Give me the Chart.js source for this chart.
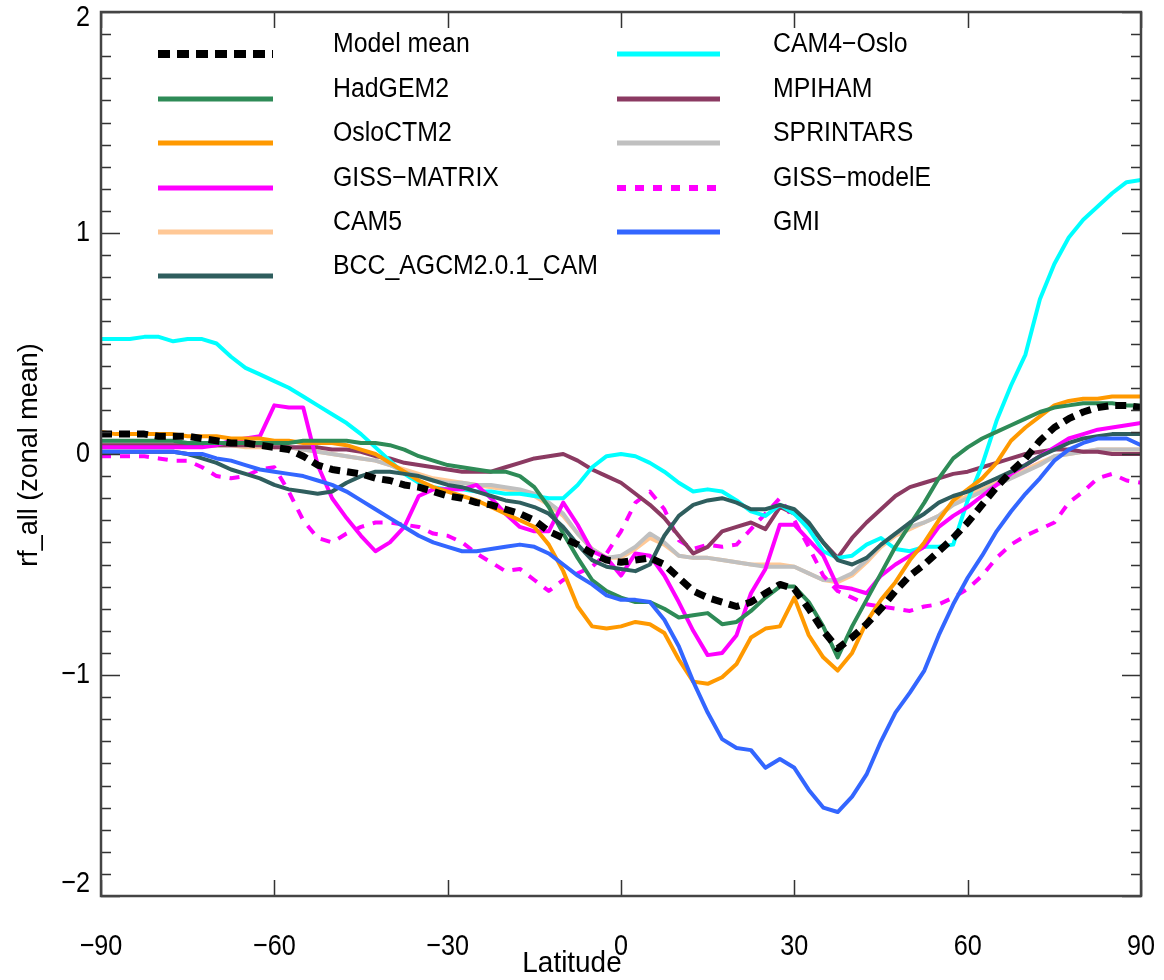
<!DOCTYPE html>
<html><head><meta charset="utf-8">
<script src="https://cdn.jsdelivr.net/npm/chart.js@4"></script>
<style>html,body{margin:0;padding:0;background:#fff}#wrap{width:1164px;height:980px;position:relative}</style>
</head><body><div id="wrap"><canvas id="c" width="1164" height="980"></canvas></div>
<script>
const latitudes = [
-90,-87.5,-85,-82.5,-80,-77.5,-75,-72.5,-70,-67.5,-65,-62.5,
-60,-57.5,-55,-52.5,-50,-47.5,-45,-42.5,-40,-37.5,-35,-32.5,
-30,-27.5,-25,-22.5,-20,-17.5,-15,-12.5,-10,-7.5,-5,-2.5,
0,2.5,5,7.5,10,12.5,15,17.5,20,22.5,25,27.5,
30,32.5,35,37.5,40,42.5,45,47.5,50,52.5,55,57.5,
60,62.5,65,67.5,70,72.5,75,77.5,80,82.5,85,87.5,
90];

const seriesNames = ['Model mean','HadGEM2','OsloCTM2','GISS\u2212MATRIX','CAM5','BCC_AGCM2.0.1_CAM',
  'CAM4\u2212Oslo','MPIHAM','SPRINTARS','GISS\u2212modelE','GMI'];

const modelMean = [
0.09,0.09,0.09,0.09,0.08,0.08,0.08,0.07,0.06,0.05,0.05,0.04,
0.03,0.02,-0.01,-0.05,-0.07,-0.08,-0.09,-0.11,-0.12,-0.14,-0.15,-0.17,
-0.19,-0.2,-0.22,-0.23,-0.25,-0.27,-0.3,-0.35,-0.38,-0.41,-0.45,-0.48,
-0.49,-0.48,-0.47,-0.5,-0.56,-0.62,-0.65,-0.67,-0.69,-0.67,-0.63,-0.59,
-0.61,-0.7,-0.8,-0.88,-0.83,-0.77,-0.7,-0.62,-0.55,-0.5,-0.44,-0.38,
-0.31,-0.23,-0.15,-0.08,-0.02,0.06,0.12,0.16,0.19,0.21,0.22,0.22,
0.21];
const hadGEM2 = [
0.06,0.06,0.06,0.06,0.06,0.06,0.05,0.05,0.05,0.05,0.05,0.05,
0.05,0.05,0.06,0.06,0.06,0.06,0.05,0.05,0.04,0.02,-0.01,-0.03,
-0.05,-0.06,-0.07,-0.08,-0.08,-0.1,-0.15,-0.24,-0.36,-0.47,-0.57,-0.62,
-0.65,-0.67,-0.67,-0.7,-0.74,-0.73,-0.72,-0.77,-0.76,-0.71,-0.65,-0.6,
-0.6,-0.67,-0.78,-0.92,-0.78,-0.66,-0.54,-0.42,-0.32,-0.22,-0.11,-0.02,
0.03,0.07,0.1,0.13,0.16,0.19,0.21,0.22,0.23,0.23,0.23,0.22,
0.22];
const osloCTM2 = [
0.1,0.09,0.09,0.09,0.09,0.09,0.08,0.08,0.08,0.07,0.07,0.07,
0.06,0.06,0.05,0.05,0.05,0.04,0.02,0.0,-0.04,-0.08,-0.12,-0.15,
-0.17,-0.19,-0.21,-0.24,-0.27,-0.3,-0.33,-0.41,-0.53,-0.69,-0.78,-0.79,
-0.78,-0.76,-0.77,-0.81,-0.93,-1.03,-1.04,-1.01,-0.95,-0.83,-0.79,-0.78,
-0.65,-0.82,-0.92,-0.98,-0.9,-0.76,-0.66,-0.58,-0.48,-0.4,-0.3,-0.21,
-0.16,-0.11,-0.04,0.06,0.12,0.17,0.22,0.24,0.25,0.25,0.26,0.26,
0.26];
const gissMatrix = [
0.03,0.03,0.03,0.03,0.03,0.03,0.03,0.03,0.04,0.06,0.07,0.08,
0.22,0.21,0.21,-0.05,-0.2,-0.29,-0.37,-0.44,-0.4,-0.33,-0.19,-0.16,
-0.16,-0.16,-0.14,-0.2,-0.27,-0.33,-0.35,-0.35,-0.22,-0.32,-0.44,-0.47,
-0.55,-0.45,-0.46,-0.55,-0.67,-0.8,-0.91,-0.9,-0.82,-0.63,-0.52,-0.32,
-0.32,-0.39,-0.46,-0.6,-0.61,-0.63,-0.55,-0.5,-0.46,-0.42,-0.33,-0.28,
-0.24,-0.19,-0.14,-0.09,-0.05,-0.01,0.03,0.07,0.09,0.11,0.12,0.13,
0.14];
const cam5 = [
0.04,0.04,0.04,0.04,0.04,0.04,0.04,0.04,0.04,0.04,0.03,0.03,
0.03,0.03,0.02,0.01,0.0,-0.01,-0.02,-0.03,-0.05,-0.07,-0.09,-0.11,
-0.12,-0.13,-0.14,-0.15,-0.16,-0.17,-0.19,-0.23,-0.28,-0.36,-0.43,-0.47,
-0.47,-0.43,-0.38,-0.41,-0.46,-0.47,-0.47,-0.48,-0.49,-0.5,-0.5,-0.5,
-0.51,-0.54,-0.57,-0.58,-0.55,-0.49,-0.42,-0.37,-0.34,-0.31,-0.28,-0.22,
-0.19,-0.16,-0.13,-0.1,-0.07,-0.04,-0.01,0.0,0.01,0.02,0.02,0.02,
0.02];
const bccAgcm = [
0.01,0.01,0.01,0.01,0.01,0.01,0.0,-0.02,-0.04,-0.07,-0.09,-0.11,
-0.14,-0.16,-0.17,-0.18,-0.17,-0.13,-0.1,-0.08,-0.08,-0.09,-0.1,-0.12,
-0.14,-0.15,-0.17,-0.19,-0.21,-0.22,-0.24,-0.27,-0.33,-0.41,-0.48,-0.51,
-0.52,-0.53,-0.5,-0.37,-0.28,-0.23,-0.21,-0.2,-0.22,-0.25,-0.25,-0.23,
-0.25,-0.31,-0.4,-0.48,-0.5,-0.47,-0.41,-0.36,-0.31,-0.27,-0.22,-0.19,
-0.17,-0.14,-0.11,-0.08,-0.05,-0.01,0.02,0.05,0.07,0.08,0.09,0.09,
0.09];
const cam4Oslo = [
0.52,0.52,0.52,0.53,0.53,0.51,0.52,0.52,0.5,0.44,0.39,0.36,
0.33,0.3,0.26,0.22,0.18,0.14,0.09,0.03,-0.03,-0.09,-0.13,-0.15,
-0.16,-0.16,-0.17,-0.17,-0.18,-0.18,-0.19,-0.2,-0.2,-0.14,-0.06,-0.01,
0.0,-0.01,-0.04,-0.08,-0.13,-0.17,-0.16,-0.17,-0.21,-0.26,-0.28,-0.23,
-0.27,-0.34,-0.44,-0.47,-0.46,-0.41,-0.38,-0.43,-0.44,-0.42,-0.42,-0.41,
-0.21,-0.05,0.15,0.31,0.45,0.7,0.86,0.98,1.06,1.12,1.18,1.23,
1.24];
const mpiham = [
0.04,0.04,0.04,0.04,0.04,0.04,0.04,0.04,0.04,0.04,0.04,0.04,
0.03,0.03,0.03,0.03,0.02,0.02,0.01,-0.01,-0.02,-0.04,-0.05,-0.06,
-0.07,-0.08,-0.08,-0.08,-0.06,-0.04,-0.02,-0.01,0.0,-0.03,-0.07,-0.1,
-0.13,-0.18,-0.23,-0.29,-0.37,-0.45,-0.42,-0.35,-0.33,-0.31,-0.34,-0.24,
-0.27,-0.32,-0.4,-0.47,-0.38,-0.31,-0.25,-0.19,-0.15,-0.13,-0.11,-0.09,
-0.08,-0.06,-0.04,-0.02,0.0,0.01,0.02,0.02,0.01,0.01,0.0,0.0,
0.0];
const sprintars = [
0.05,0.05,0.05,0.05,0.05,0.05,0.05,0.04,0.04,0.04,0.04,0.04,
0.04,0.03,0.02,0.01,0.0,-0.01,-0.02,-0.03,-0.05,-0.08,-0.1,-0.12,
-0.13,-0.13,-0.14,-0.14,-0.15,-0.16,-0.18,-0.22,-0.27,-0.36,-0.43,-0.47,
-0.46,-0.42,-0.36,-0.4,-0.46,-0.47,-0.47,-0.48,-0.49,-0.5,-0.51,-0.51,
-0.51,-0.54,-0.57,-0.57,-0.54,-0.48,-0.41,-0.36,-0.33,-0.31,-0.28,-0.23,
-0.2,-0.17,-0.14,-0.11,-0.08,-0.05,-0.01,0.0,0.01,0.02,0.02,0.02,
0.02];
const gissModelE = [
-0.01,-0.01,-0.01,-0.01,-0.02,-0.03,-0.03,-0.06,-0.1,-0.11,-0.1,-0.07,
-0.06,-0.17,-0.3,-0.38,-0.4,-0.36,-0.33,-0.31,-0.31,-0.32,-0.33,-0.36,
-0.37,-0.4,-0.45,-0.49,-0.53,-0.52,-0.57,-0.62,-0.57,-0.54,-0.51,-0.45,
-0.35,-0.22,-0.17,-0.25,-0.39,-0.43,-0.41,-0.42,-0.41,-0.34,-0.27,-0.2,
-0.3,-0.42,-0.55,-0.62,-0.65,-0.68,-0.69,-0.7,-0.71,-0.69,-0.68,-0.65,
-0.61,-0.55,-0.47,-0.41,-0.37,-0.34,-0.31,-0.22,-0.17,-0.11,-0.09,-0.12,
-0.13];
const gmi = [
0.01,0.01,0.01,0.01,0.01,0.01,0.0,0.0,-0.02,-0.03,-0.05,-0.07,
-0.08,-0.09,-0.1,-0.12,-0.14,-0.17,-0.21,-0.25,-0.29,-0.33,-0.37,-0.4,
-0.42,-0.44,-0.44,-0.43,-0.42,-0.41,-0.42,-0.45,-0.5,-0.55,-0.59,-0.64,
-0.66,-0.66,-0.67,-0.75,-0.87,-1.03,-1.17,-1.29,-1.33,-1.34,-1.42,-1.38,
-1.42,-1.52,-1.6,-1.62,-1.55,-1.45,-1.3,-1.17,-1.08,-0.98,-0.82,-0.68,
-0.56,-0.46,-0.35,-0.26,-0.18,-0.11,-0.03,0.02,0.05,0.07,0.07,0.07,
0.04];

const xTickValues = [-90,-60,-30,0,30,60,90];
const xTickLabels = ['\u221290','\u221260','\u221230','0','30','60','90'];
const yTickValues = [-2,-1,0,1,2];
const yTickLabels = ['\u22122','\u22121','0','1','2'];

const FONT = "'Liberation Sans', Arial, Helvetica, sans-serif";

const seriesValues = [modelMean, hadGEM2, osloCTM2, gissMatrix, cam5, bccAgcm, cam4Oslo, mpiham, sprintars, gissModelE, gmi];
const colors = ['#000000','#2e8b57','#ff9900','#ff00ff','#ffc896','#2f5e5e','#00ffff','#8b3a62','#c0c0c0','#ff00ff','#3366ff'];
const widths = [7,4,4,4,4,4,4,4,4,4,4];
const dashes = [[11,7],[],[],[],[],[],[],[],[],[10,9],[]];
const drawOrder = [0,3,4,5,10,2,6,7,9,8,1]; // lower = on top

const datasets = seriesValues.map((vals, i) => ({
  label: seriesNames[i],
  data: latitudes.map((lat, k) => ({x: lat, y: vals[k]})),
  borderColor: colors[i],
  backgroundColor: colors[i],
  borderWidth: widths[i],
  borderDash: dashes[i],
  pointRadius: 0,
  tension: 0,
  fill: false,
  order: drawOrder[i],
  borderCapStyle: 'butt',
  borderJoinStyle: 'round'
}));

function squeezedText(ctx, text, x, y, sx) {
  ctx.save();
  ctx.translate(x, y);
  ctx.scale(sx, 1);
  ctx.fillText(text, 0, 0);
  ctx.restore();
}

const framePlugin = {
  id: 'frame',
  afterDraw(chart) {
    const ctx = chart.ctx, a = chart.chartArea;
    const xs = chart.scales.x, ys = chart.scales.y;
    ctx.save();
    ctx.strokeStyle = '#333';
    ctx.lineWidth = 1.5;
    for (let k = -20; k <= 20; k++) {
      const y = Math.round(ys.getPixelForValue(k / 10)) + 0.5;
      const len = (k % 10 === 0) ? 19 : 10;
      ctx.beginPath();
      ctx.moveTo(a.left, y); ctx.lineTo(a.left + len, y);
      ctx.moveTo(a.right, y); ctx.lineTo(a.right - len, y);
      ctx.stroke();
    }
    xTickValues.forEach(v => {
      const x = Math.round(xs.getPixelForValue(v)) + 0.5;
      ctx.beginPath();
      ctx.moveTo(x, a.top); ctx.lineTo(x, a.top + 16);
      ctx.moveTo(x, a.bottom); ctx.lineTo(x, a.bottom - 16);
      ctx.stroke();
    });
    ctx.strokeStyle = '#444';
    ctx.lineWidth = 2.5;
    ctx.strokeRect(a.left, a.top, a.right - a.left, a.bottom - a.top);
    // tick labels
    ctx.fillStyle = '#000';
    ctx.font = '30px ' + FONT;
    ctx.textBaseline = 'middle';
    ctx.textAlign = 'center';
    xTickValues.forEach((v, i) => {
      squeezedText(ctx, xTickLabels[i], xs.getPixelForValue(v), a.bottom + 51, 0.84);
    });
    ctx.textAlign = 'right';
    yTickValues.forEach((v, i) => {
      let y = ys.getPixelForValue(v);
      y = Math.min(Math.max(y, a.top + 6), a.bottom - 12);
      squeezedText(ctx, yTickLabels[i], a.left - 11, y, 0.84);
    });
    // axis titles
    ctx.font = '30px ' + FONT;
    ctx.textAlign = 'center';
    squeezedText(ctx, 'Latitude', 572, 964, 0.93);
    ctx.translate(30, 455);
    ctx.rotate(-Math.PI / 2);
    ctx.font = '27px ' + FONT;
    ctx.fillText('rf_all (zonal mean)', 0, 0);
    ctx.restore();
  }
};

const legendPlugin = {
  id: 'customLegend',
  afterDraw(chart) {
    const ctx = chart.ctx;
    const rows = [54, 99, 143, 188, 232, 276];
    const cols = [{x1: 158, x2: 273, tx: 333}, {x1: 617, x2: 720, tx: 773}];
    ctx.save();
    chart.data.datasets.forEach((ds, i) => {
      const c = i < 6 ? cols[0] : cols[1];
      const y = rows[i < 6 ? i : i - 6];
      ctx.beginPath();
      ctx.strokeStyle = ds.borderColor;
      ctx.lineWidth = i === 0 ? 8 : (i === 9 ? 6 : 5);
      ctx.setLineDash(i === 0 ? [12, 7] : (i === 9 ? [9, 9] : []));
      ctx.moveTo(c.x1, y); ctx.lineTo(c.x2, y);
      ctx.stroke();
      ctx.setLineDash([]);
      ctx.fillStyle = '#000';
      ctx.font = '27px ' + FONT;
      ctx.textAlign = 'left';
      ctx.textBaseline = 'middle';
      squeezedText(ctx, ds.label, c.tx, y - 9, 0.92);
    });
    ctx.restore();
  }
};

new Chart(document.getElementById('c'), {
  type: 'line',
  data: { datasets },
  options: {
    responsive: false,
    animation: false,
    devicePixelRatio: 1,
    layout: { padding: { top: 12, right: 23, left: 0, bottom: 0 } },
    plugins: { legend: { display: false }, tooltip: { enabled: false } },
    scales: {
      x: {
        type: 'linear', min: -90, max: 90,
        afterBuildTicks: s => { s.ticks = xTickValues.map(v => ({ value: v })); },
        afterFit: s => { s.height = 84; },
        grid: { display: false, drawTicks: false },
        border: { display: false },
        ticks: { display: false }
      },
      y: {
        type: 'linear', min: -2, max: 2,
        afterBuildTicks: s => { s.ticks = yTickValues.map(v => ({ value: v })); },
        afterFit: s => { s.width = 101; },
        grid: { display: false, drawTicks: false },
        border: { display: false },
        ticks: { display: false }
      }
    }
  },
  plugins: [framePlugin, legendPlugin]
});
</script>
</body></html>
